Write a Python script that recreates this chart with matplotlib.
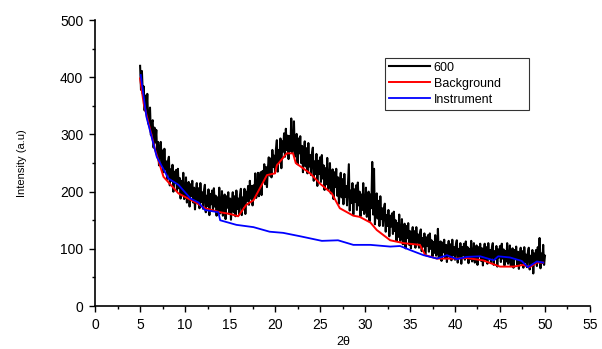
import numpy as np
import matplotlib
matplotlib.use("Agg")
import matplotlib.pyplot as plt
from matplotlib.ticker import MultipleLocator

plt.rcParams['font.family'] = ['Liberation Sans', 'DejaVu Sans']

# Measured sample (600) sampled every 0.1 deg from 5.0 to 50.0 (one row per degree)
x_start, x_step = 5.0, 0.1
sample_600 = [
    420, 378, 411, 371, 384, 342, 368, 338, 371, 319,
    320, 347, 299, 321, 325, 277, 312, 286, 308, 265,
    287, 246, 273, 287, 248, 272, 234, 275, 239, 253,
    222, 253, 261, 211, 239, 219, 247, 200, 235, 215,
    238, 201, 240, 206, 224, 188, 219, 195, 233, 187,
    193, 225, 181, 208, 217, 174, 213, 192, 219, 181,
    207, 169, 199, 215, 180, 206, 171, 215, 182, 199,
    170, 202, 212, 164, 193, 175, 204, 159, 196, 178,
    202, 167, 206, 174, 193, 158, 190, 167, 207, 162,
    169, 201, 158, 186, 195, 152, 192, 172, 199, 161,
    188, 151, 181, 199, 164, 192, 157, 202, 170, 188,
    160, 194, 205, 159, 190, 174, 205, 161, 200, 184,
    210, 177, 219, 188, 210, 176, 211, 190, 232, 189,
    198, 233, 192, 222, 234, 194, 236, 218, 248, 213,
    243, 208, 240, 260, 228, 258, 225, 273, 243, 263,
    234, 275, 290, 235, 273, 255, 293, 241, 288, 270,
    302, 261, 310, 273, 298, 257, 297, 271, 328, 268,
    278, 323, 261, 292, 301, 248, 293, 267, 297, 250,
    280, 234, 268, 288, 244, 276, 232, 285, 244, 264,
    229, 267, 277, 219, 253, 231, 266, 210, 254, 231,
    260, 217, 264, 223, 246, 203, 241, 213, 259, 204,
    212, 250, 197, 229, 239, 187, 234, 208, 240, 193,
    225, 179, 213, 233, 190, 222, 178, 231, 191, 210,
    176, 214, 248, 167, 202, 180, 215, 160, 204, 182,
    211, 168, 216, 176, 200, 157, 195, 168, 215, 161,
    169, 207, 156, 188, 200, 148, 195, 171, 252, 160,
    240, 143, 177, 197, 153, 184, 140, 192, 152, 171,
    140, 171, 179, 130, 159, 140, 168, 122, 158, 139,
    162, 126, 165, 131, 150, 114, 145, 121, 160, 114,
    120, 152, 108, 135, 144, 101, 140, 119, 145, 107,
    131, 101, 124, 138, 109, 131, 102, 138, 111, 125,
    102, 127, 134, 96, 119, 104, 127, 90, 120, 105,
    124, 95, 127, 100, 115, 87, 112, 93, 124, 88,
    93, 135, 84, 106, 113, 79, 111, 94, 116, 85,
    107, 77, 101, 114, 86, 108, 80, 116, 89, 103,
    81, 107, 115, 76, 100, 86, 110, 74, 103, 89,
    109, 81, 113, 87, 103, 75, 100, 82, 114, 78,
    84, 110, 76, 98, 106, 72, 103, 87, 109, 79,
    101, 71, 95, 109, 81, 103, 74, 110, 84, 98,
    76, 102, 110, 72, 96, 82, 105, 69, 99, 85,
    105, 77, 109, 83, 99, 71, 96, 78, 110, 74,
    80, 106, 71, 93, 101, 67, 98, 82, 104, 73,
    95, 65, 88, 102, 74, 96, 67, 103, 77, 90,
    68, 94, 102, 64, 88, 74, 98, 57, 92, 78,
    98, 70, 103, 77, 119, 66, 92, 75, 107, 72,
    88,
]

bg_x = [5.0, 5.4, 6.67, 7.6, 9.26, 11.3, 12.2, 13.9, 15.0, 15.9, 16.8, 17.6,
        19.1, 20.0, 20.2, 21.3, 22.0, 22.3, 23.9, 25.0, 26.3, 27.2, 28.7, 29.4,
        30.6, 31.3, 32.8, 34.3, 36.1, 36.7, 38.0, 40.2, 41.3, 43.1, 45.0, 46.5,
        47.6, 48.3, 49.1, 49.8]
bg_y = [398, 354, 273, 226, 197, 180, 171, 164, 161, 157, 177, 185,
        229, 232, 246, 267, 267, 250, 232, 214, 197, 171, 158, 156,
        146, 133, 115, 110, 107, 89, 83, 83, 84, 80, 69, 69,
        72, 68, 76, 76]

inst_x = [5.07, 5.7, 6.85, 8.15, 9.26, 10.6, 11.5, 12.2, 13.7, 13.9, 15.7, 17.6,
          19.4, 20.9, 22.8, 25.2, 27.0, 28.7, 30.6, 32.8, 33.9, 35.0, 36.5, 38.0,
          39.1, 40.2, 41.3, 42.8, 44.3, 44.8, 46.1, 47.4, 48.1, 49.1, 49.8]
inst_y = [404, 331, 261, 223, 212, 188, 181, 168, 164, 150, 142, 138,
          130, 128, 122, 114, 115, 107, 107, 104, 105, 98, 89, 83,
          89, 82, 86, 87, 80, 87, 85, 79, 68, 78, 76]

x_ticks = [0, 5, 10, 15, 20, 25, 30, 35, 40, 45, 50, 55]
y_ticks = [0, 100, 200, 300, 400, 500]

sample_x = x_start + x_step * np.arange(len(sample_600))

fig = plt.figure(figsize=(6.02, 3.49), dpi=100)
ax = fig.add_axes([0.158, 0.123, 0.822, 0.8195])

ax.plot(sample_x, sample_600, color='black', lw=1.5, label='600')
ax.plot(bg_x, bg_y, color='red', lw=1.4, label='Background')
ax.plot(inst_x, inst_y, color='blue', lw=1.3, label='Instrument')

ax.set_xlim(0, 55)
ax.set_ylim(0, 500)
ax.set_xticks(x_ticks)
ax.set_yticks(y_ticks)
ax.xaxis.set_minor_locator(MultipleLocator(2.5))
ax.yaxis.set_minor_locator(MultipleLocator(50))
ax.tick_params(which='major', direction='out', length=4.5, width=1, labelsize=10, pad=4)
ax.tick_params(which='minor', direction='out', length=2.5, width=1)
for s in ['top', 'right']:
    ax.spines[s].set_visible(False)
for s in ['left', 'bottom']:
    ax.spines[s].set_linewidth(1.2)

ax.set_ylabel('Intensity (a.u)', fontsize=8)
ax.yaxis.set_label_coords(-0.137, 0.5)
fig.text(0.57, 0.003, '2θ', fontsize=9, ha='center', va='bottom')

leg = ax.legend(loc='upper left',
                bbox_to_anchor=(385/602, 1 - 110/349, 144/602, 52/349),
                bbox_transform=fig.transFigure, mode='expand',
                frameon=True, fancybox=False,
                fontsize=9, handlelength=3.3, handletextpad=0.3,
                borderpad=0.3, labelspacing=0.32, borderaxespad=0)
leg.get_frame().set_edgecolor('black')
leg.get_frame().set_linewidth(0.8)

fig.savefig('out.png', dpi=100)
